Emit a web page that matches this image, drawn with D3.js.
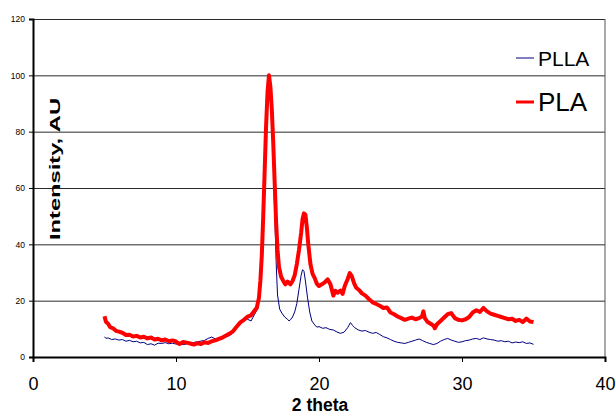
<!DOCTYPE html>
<html>
<head>
<meta charset="utf-8">
<script src="https://cdn.jsdelivr.net/npm/d3@7"></script>
<style>
  body { margin: 0; background: #fff; }
  svg { display: block; font-family: 'Liberation Sans', Arial, sans-serif; }
</style>
</head>
<body>
<svg width="616" height="417"></svg>
<script>
// [2theta, intensity]
const pllaPoints = [
  [5.0,7.2],[5.1,6.6],[5.25,6.8],[5.5,6.2],[5.75,6.4],[6.0,6.0],[6.25,6.2],[6.5,5.6],[6.75,5.9],
  [7.0,5.4],[7.25,5.6],[7.5,5.0],[7.75,5.2],[8.0,4.4],[8.25,4.7],[8.5,4.2],[8.75,4.9],[9.0,4.8],
  [9.25,5.1],[9.5,4.7],[9.75,4.9],[10.0,4.6],[10.5,4.4],[11.0,4.9],[11.5,5.4],[12.0,5.9],[12.25,6.6],
  [12.5,7.1],[12.75,6.4],[13.0,6.7],[13.25,7.0],[13.5,7.2],[13.75,7.6],[14.0,8.6],[14.25,11.2],
  [14.5,12.6],[14.75,13.0],[15.0,13.4],[15.25,12.8],[15.5,15.2],[15.7,17],[15.85,22],[16.0,34],
  [16.1,48],[16.2,64],[16.3,80],[16.4,92],[16.5,97],[16.6,93],[16.7,84],[16.8,70],[16.9,52],
  [17.0,34],[17.1,22],[17.25,17],[17.4,15.6],[17.6,14.2],[17.8,13.4],[17.9,12.8],[18.0,13.2],
  [18.15,14.2],[18.3,16],[18.45,19],[18.6,24],[18.75,29],[18.85,31],[18.95,30.4],[19.05,27],
  [19.2,21],[19.35,16],[19.5,12.8],[19.7,11.4],[19.85,10.6],[20.0,10.8],[20.25,10.2],[20.5,10.4],
  [20.75,9.8],[21.0,9.6],[21.25,8.9],[21.5,8.4],[21.75,8.8],[22.0,10.4],[22.2,12.2],[22.35,11.2],
  [22.5,10.4],[22.75,9.6],[23.0,9.2],[23.25,9.4],[23.5,8.8],[23.75,8.4],[24.0,8.7],[24.25,8.0],
  [24.5,7.2],[24.75,6.8],[25.0,6.2],[25.25,5.6],[25.5,5.2],[25.75,5.0],[26.0,4.8],[26.25,5.2],
  [26.5,5.6],[26.75,6.0],[27.0,6.4],[27.25,5.8],[27.5,5.2],[27.75,4.8],[28.0,4.4],[28.25,4.8],
  [28.5,5.6],[28.75,6.2],[29.0,6.6],[29.25,6.0],[29.5,5.6],[29.75,5.2],[30.0,5.4],[30.25,5.8],
  [30.5,6.0],[30.75,6.4],[31.0,6.6],[31.25,6.2],[31.5,6.8],[31.75,6.4],[32.0,6.2],[32.25,6.0],
  [32.5,5.6],[32.75,5.8],[33.0,5.4],[33.25,5.6],[33.5,5.0],[33.75,5.3],[34.0,5.1],[34.25,5.4],
  [34.5,4.8],[34.75,5.0],[35.0,4.5]
];

const plaPoints = [
  [5.0,14.5],[5.1,12.5],[5.25,11.8],[5.4,10.6],[5.6,10.2],[5.8,9.3],[6.0,9.0],[6.25,8.6],[6.5,7.8],
  [6.75,7.9],[7.0,7.3],[7.25,7.5],[7.5,6.9],[7.75,7.2],[8.0,6.6],[8.25,6.9],[8.5,6.2],[8.75,6.5],
  [9.0,5.9],[9.25,6.2],[9.5,5.6],[9.75,5.9],[10.0,5.5],[10.25,4.6],[10.5,5.3],[10.75,5.1],[11.0,4.8],
  [11.25,4.4],[11.5,4.9],[11.75,4.6],[12.0,5.2],[12.25,5.0],[12.5,5.6],[12.75,5.9],[13.0,6.4],
  [13.25,6.9],[13.5,7.6],[13.75,8.3],[14.0,9.2],[14.25,10.8],[14.5,12.3],[14.75,13.2],[15.0,14.3],
  [15.25,14.8],[15.5,16.5],[15.65,17.5],[15.8,21],[15.9,27],[16.0,36],[16.1,50],[16.2,66],[16.3,82],
  [16.4,94],[16.5,100],[16.6,96],[16.7,88],[16.8,76],[16.9,62],[17.0,48],[17.1,38],[17.2,32],
  [17.35,28.5],[17.5,27],[17.65,25.8],[17.8,26.8],[18.0,25.8],[18.15,27],[18.3,29],[18.45,33],
  [18.6,38],[18.75,44],[18.85,49],[18.95,51],[19.05,50.5],[19.15,46],[19.25,40],[19.4,33],
  [19.55,29.5],[19.7,28],[19.85,26],[20.0,25.2],[20.2,25.8],[20.4,26.5],[20.6,27.6],[20.8,25.8],
  [21.0,21.8],[21.15,23.5],[21.3,22.8],[21.5,23.6],[21.65,22.4],[21.8,25.2],[22.0,27.6],[22.15,29.8],
  [22.3,28.6],[22.45,26.2],[22.6,24.6],[22.8,23.8],[23.0,22.6],[23.25,21.8],[23.5,20.5],[23.75,19.4],
  [24.0,18.8],[24.25,18.2],[24.5,17.4],[24.75,17.6],[25.0,15.8],[25.25,15.2],[25.5,14.4],[25.75,13.8],
  [26.0,13.2],[26.25,13.6],[26.5,14.0],[26.75,13.4],[27.0,13.8],[27.2,14.4],[27.3,16.2],[27.4,13.8],
  [27.6,12.4],[27.8,11.8],[28.0,11.2],[28.1,10.2],[28.25,11.6],[28.5,12.8],[28.75,14.0],[29.0,15.2],
  [29.25,15.6],[29.5,13.8],[29.75,13.2],[30.0,13.0],[30.25,13.4],[30.5,14.2],[30.75,15.8],[31.0,16.6],
  [31.25,16.0],[31.5,17.4],[31.75,16.2],[32.0,15.4],[32.25,15.0],[32.5,14.6],[32.75,14.2],[33.0,13.8],
  [33.25,13.4],[33.5,13.6],[33.75,12.8],[34.0,13.2],[34.25,12.4],[34.5,13.6],[34.75,12.6],[35.0,12.4]
];

const xTicks = [0, 10, 20, 30, 40];
const yTicks = [0, 20, 40, 60, 80, 100, 120];
const seriesNames = ['PLLA', 'PLA'];
const seriesColors = ['#000080', '#ff0000'];

(function () {
  const svg = d3.select('svg');
  const width = +svg.attr('width');
  const height = +svg.attr('height');

  const margin = { top: 19, right: 11, bottom: 60, left: 33 };
  const innerWidth = width - margin.left - margin.right;
  const innerHeight = height - margin.top - margin.bottom;

  const xScale = d3.scaleLinear().domain([0, 40]).range([0, innerWidth]);
  const yScale = d3.scaleLinear().domain([0, 120]).range([innerHeight, 0]);

  const g = svg.append('g')
    .attr('transform', `translate(${margin.left},${margin.top})`);

  // gridlines
  const gridG = g.append('g')
    .call(d3.axisLeft(yScale).tickValues(yTicks).tickSize(-innerWidth).tickFormat(''));
  gridG.select('.domain').remove();
  gridG.selectAll('line').attr('stroke', '#2a2a2a').attr('stroke-width', 1);

  // right border
  g.append('line')
    .attr('x1', innerWidth).attr('x2', innerWidth)
    .attr('y1', 0).attr('y2', innerHeight)
    .attr('stroke', '#555').attr('stroke-width', 1);

  const line = d3.line()
    .x(d => xScale(d[0]))
    .y(d => yScale(d[1]));

  g.append('path')
    .datum(pllaPoints)
    .attr('fill', 'none')
    .attr('stroke', seriesColors[0])
    .attr('stroke-width', 1)
    .attr('d', line);

  g.append('path')
    .datum(plaPoints)
    .attr('fill', 'none')
    .attr('stroke', seriesColors[1])
    .attr('stroke-width', 4)
    .attr('stroke-linejoin', 'round')
    .attr('d', line);

  // y axis
  const yAxisG = g.append('g')
    .call(d3.axisLeft(yScale).tickValues(yTicks).tickSize(4).tickPadding(4));
  yAxisG.select('.domain').attr('stroke', '#000').attr('stroke-width', 2);
  yAxisG.selectAll('text').attr('font-size', '8.5px').attr('fill', '#000')
    .attr('font-family', "'Liberation Sans', Arial, sans-serif");

  // x axis
  const xAxisG = g.append('g')
    .attr('transform', `translate(0,${innerHeight})`)
    .call(d3.axisBottom(xScale).tickValues(xTicks).tickSize(5).tickPadding(15));
  xAxisG.select('.domain').attr('stroke', '#000').attr('stroke-width', 2);
  xAxisG.selectAll('text').attr('font-size', '18px').attr('fill', '#000')
    .attr('font-family', "'Liberation Sans', Arial, sans-serif");

  g.append('text')
    .attr('x', innerWidth / 2 + 1)
    .attr('y', innerHeight + 54)
    .attr('text-anchor', 'middle')
    .attr('font-size', '17.5px')
    .attr('font-weight', 'bold')
    .text('2 theta');

  g.append('text')
    .attr('transform', `translate(27,${150}) rotate(-90)`)
    .attr('text-anchor', 'middle')
    .attr('font-size', '15px')
    .attr('font-weight', 'bold')
    .attr('textLength', 142)
    .attr('lengthAdjust', 'spacingAndGlyphs')
    .text('Intensity, AU');

  // legend
  const legend = svg.append('g');
  const legendRows = [
    { y: 58, size: 21, width: 1 },
    { y: 102, size: 26, width: 3 }
  ];
  legendRows.forEach((r, i) => {
    legend.append('line')
      .attr('x1', 516).attr('x2', 534)
      .attr('y1', r.y).attr('y2', r.y)
      .attr('stroke', seriesColors[i])
      .attr('stroke-width', r.width);
    legend.append('text')
      .attr('x', 538)
      .attr('y', r.y + r.size * 0.36)
      .attr('font-size', r.size + 'px')
      .text(seriesNames[i]);
  });
})();
</script>
</body>
</html>
